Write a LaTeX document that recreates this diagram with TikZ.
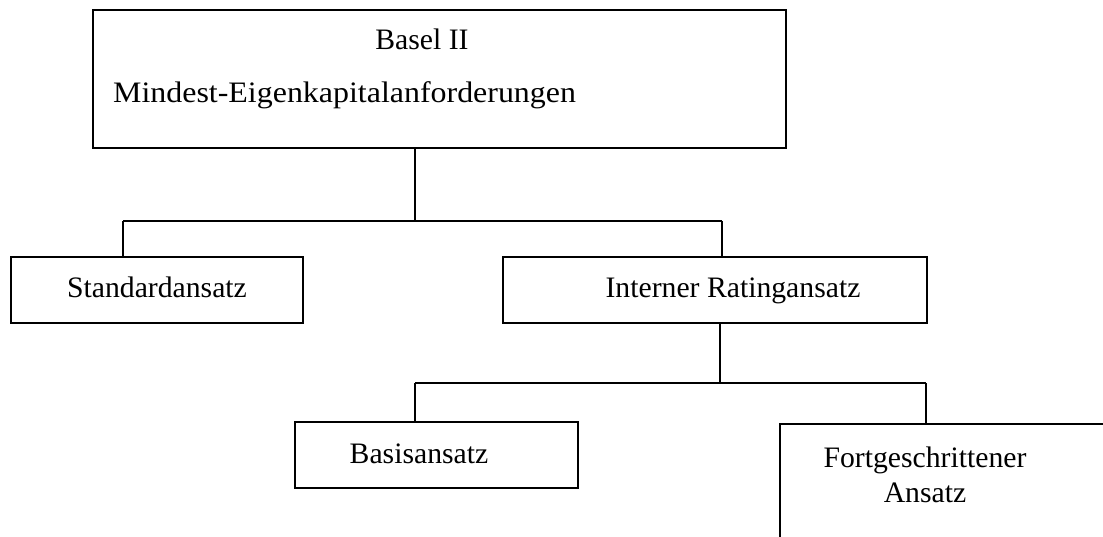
\documentclass[tikz,border=0pt]{standalone}
\usepackage{fontspec}
\setmainfont{Liberation Serif}
\begin{document}
\begin{tikzpicture}[x=1pt,y=-1pt,
  box/.style={draw,line width=1.5pt,inner sep=0pt,minimum width=#1},
  conn/.style={line width=1.2pt},
  txt/.style={inner sep=0pt,font=\fontsize{29.7}{35}\selectfont}]
\useasboundingbox (0,0) rectangle (1103,537);
\clip (0,0) rectangle (1103,537);
% boxes
\node[box=693pt,minimum height=138pt] (top) at (439.5,79) {};
\node[box=292pt,minimum height=66pt] (std) at (157,290) {};
\node[box=424pt,minimum height=66pt] (int) at (715,290) {};
\node[box=283pt,minimum height=66pt] (bas) at (436.5,455) {};
\node[box=400pt,minimum height=200pt] (fort) at (980,524) {};
% texts
\node[txt,anchor=base] (t1) at (422,50) {Basel II};
\node[txt,anchor=base west] (t2) at (113,103) {\scalebox{1.075}[1]{Mindest-Eigenkapitalanforderungen}};
\node[txt,anchor=base] (t3) at (157,298) {Standardansatz};
\node[txt,anchor=base] (t4) at (733,298) {Interner Ratingansatz};
\node[txt,anchor=base] (t5) at (419,463) {Basisansatz};
\node[txt,anchor=base] (t6) at (925,467) {Fortgeschrittener};
\node[txt,anchor=base] (t7) at (925,502) {Ansatz};
% connectors
\coordinate (j1) at (415,221);
\coordinate (j1l) at (123,221);
\coordinate (j1r) at (722,221);
\draw[conn] (top.south -| j1) -- (j1);
\draw[conn] (j1l) -- (j1r);
\draw[conn] (j1l) -- (j1l |- std.north);
\draw[conn] (j1r) -- (j1r |- int.north);
\coordinate (j2) at (720,383);
\coordinate (j2l) at (415,383);
\coordinate (j2r) at (926,383);
\draw[conn] (int.south -| j2) -- (j2);
\draw[conn] (j2l) -- (j2r);
\draw[conn] (j2l) -- (j2l |- bas.north);
\draw[conn] (j2r) -- (j2r |- fort.north);
\end{tikzpicture}
\end{document}
